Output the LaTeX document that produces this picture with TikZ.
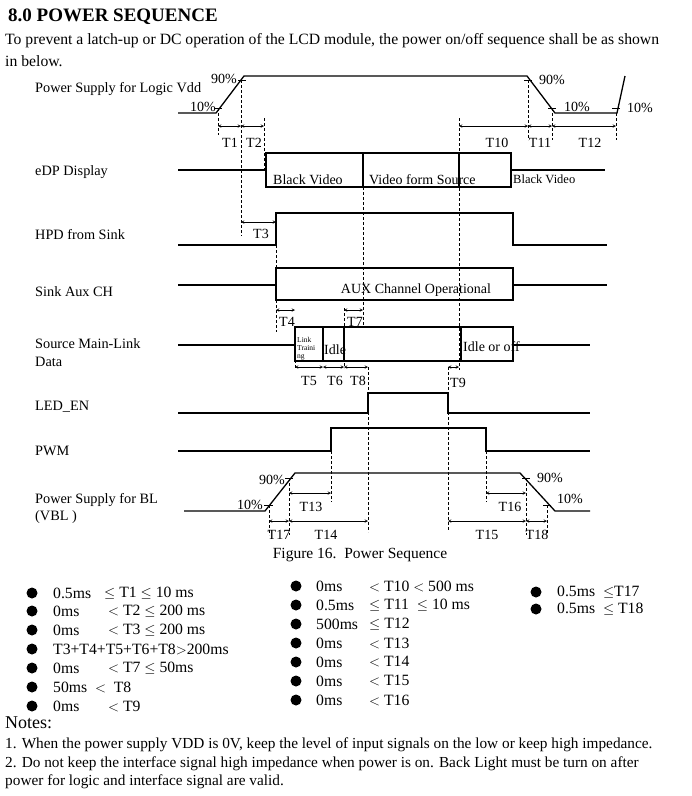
\documentclass[tikz,border=0pt]{standalone}
\usepackage{fontspec}
\setmainfont{Liberation Serif}
\begin{document}
\begin{tikzpicture}[x=1pt,y=-1pt,
  sig/.style={line width=1.3pt},
  guide/.style={densely dashed,line width=0.4pt},
  span/.style={<->,>=stealth,line width=0.5pt},
  lbl/.style={font=\fontsize{14}{14}\selectfont,inner sep=0pt},
  row/.style={font=\fontsize{14.3}{15}\selectfont,anchor=west,inner sep=0pt},
  txt/.style={font=\fontsize{15.7}{16}\selectfont,anchor=west,inner sep=0pt}]
\useasboundingbox (0,0) rectangle (692,796);
% heading
\node[anchor=west,inner sep=0pt,font=\fontsize{19}{19}\selectfont\bfseries] (head) at (8,17) {8.0 POWER SEQUENCE};
\node[txt] (intro1) at (5,41) {To prevent a latch-up or DC operation of the LCD module, the power on/off sequence shall be as shown};
\node[txt] (intro2) at (5,61) {in below.};

% row labels
\node[row] (lvdd) at (35,89) {Power Supply for Logic Vdd};
\node[row] (ledp) at (35,172) {eDP Display};
\node[row] (lhpd) at (35,235) {HPD from Sink};
\node[row] (laux) at (35,292) {Sink Aux CH};
\node[row] (lml1) at (35,344) {Source Main-Link};
\node[row] (lml2) at (35,362) {Data};
\node[row] (lled) at (35,407) {LED\_EN};
\node[row] (lpwm) at (35,451) {PWM};
\node[row] (lbl1) at (35,500) {Power Supply for BL};
\node[row] (lbl2) at (35,517) {(VBL )};

% Vdd
\draw[sig] (178,113) -- (216,113) -- (244,76) -- (527,76) -- (555,113) -- (617,113) -- (625,76);
\draw (214,108) -- (222,108) (238,80) -- (246,80) (524,80) -- (532,80) (548,108) -- (556,108) (612,108) -- (620,108);
\node[lbl] (v90a) at (224,79) {90\%};
\node[lbl] (v10a) at (203,107) {10\%};
\node[lbl] (v90b) at (552,80) {90\%};
\node[lbl] (v10b) at (577,107) {10\%};
\node[lbl] (v10c) at (640,108) {10\%};

% eDP display
\draw[sig] (178,170) -- (266,170) (511,170) -- (605,170);
\draw[sig] (266,153) rectangle (511,187);
\draw[sig] (363,153) -- (363,187) (459,153) -- (459,187);
\node[lbl,anchor=west] (bv1) at (273,180) {Black Video};
\node[lbl,anchor=west] (vfs) at (369,180) {Video form Source};
\node[lbl,anchor=west,font=\fontsize{12.5}{12}\selectfont] (bv2) at (513,179) {Black Video};

% HPD
\draw[sig] (178,245) -- (276,245) -- (276,213) -- (513,213) -- (513,245) -- (607,245);

% Sink Aux CH
\draw[sig] (178,285) -- (276,285) (513,285) -- (607,285);
\draw[sig] (276,268) rectangle (513,300);
\node[lbl] (auxop) at (416,290) {AUX Channel Operational};

% Main-link
\draw[sig] (178,345) -- (295,345) (513,345) -- (590,345);
\draw[sig] (295,327) rectangle (513,361);
\draw[sig] (323,327) -- (323,361) (344,327) -- (344,361) (461,327) -- (461,361);
\node[lbl,anchor=west,font=\fontsize{7.5}{8}\selectfont,align=left] (lt) at (297,349) {Link\\Traini\\ng};
\node[lbl,anchor=west] (idl) at (324,350) {Idle};
\node[lbl,anchor=west] (ido) at (463,347) {Idle or off};

% LED_EN, PWM
\draw[sig] (178,413) -- (368,413) -- (368,393) -- (448,393) -- (448,413) -- (590,413);
\draw[sig] (178,451) -- (331,451) -- (331,428) -- (486,428) -- (486,451) -- (590,451);

% VBL
\draw[sig] (184,511) -- (265,511) -- (295,473) -- (520,473) -- (555,511) -- (590,511);
\draw (264,505) -- (273,505) (285,478) -- (293,478) (522,478) -- (530,478) (543,505) -- (551,505);
\node[lbl] (b90a) at (272,480) {90\%};
\node[lbl] (b10a) at (250,505) {10\%};
\node[lbl] (b90b) at (550,478) {90\%};
\node[lbl] (b10b) at (570,499) {10\%};

% guides
\draw[guide] (218,108) -- (218,135) (241,80) -- (241,236) (264,118) -- (264,170)
  (459,118) -- (459,370) (528,80) -- (528,140) (552,108) -- (552,140) (616,113) -- (616,140)
  (363,187) -- (363,328) (276,245) -- (276,332) (295,345) -- (295,368) (344,308) -- (344,368)
  (368,367) -- (368,532) (448,367) -- (448,530) (269,505) -- (269,535) (289,478) -- (289,535)
  (331,451) -- (331,502) (486,451) -- (486,502) (526,478) -- (526,535) (547,505) -- (547,535);

% spans
\draw[span] (218,126) -- (241,126);
\draw[span] (241,126) -- (264,126);
\draw[span] (459,126) -- (528,126);
\draw[span] (528,126) -- (552,126);
\draw[span] (552,126) -- (616,126);
\draw[span] (241,222) -- (276,222);
\draw[span] (276,310) -- (295,310);
\draw[span] (344,310) -- (363,310);
\draw[span] (295,367) -- (323,367);
\draw[span] (323,367) -- (344,367);
\draw[span] (344,367) -- (368,367);
\draw[span] (448,367) -- (459,367);
\draw[span] (289,493) -- (331,493);
\draw[span] (486,493) -- (526,493);
\draw[span] (269,521) -- (289,521);
\draw[span] (289,521) -- (368,521);
\draw[span] (448,521) -- (526,521);
\draw[span] (526,521) -- (547,521);
\foreach \t/\x/\y in {T1/230/143,T2/254/143,T10/497/143,T11/540/143,T12/590/143,T3/261/234,
  T4/287/322,T7/355/322,T5/309/381,T6/335/381,T8/358/381,T9/458/383,
  T13/311/507,T16/510/507,T17/279/535,T14/326/535,T15/487/535,T18/537/535}
  \node[lbl] (l\t) at (\x,\y) {\t};
\node[lbl,font=\fontsize{15.5}{15}\selectfont] (cap) at (360,555) {Figure 16.\ \ Power Sequence};

% limits
\foreach \y in {593,611,630,649,668,687,706}
  \fill (32,\y) circle (5.5);
\foreach \y in {586,605,624,643,662,681,700}
  \fill (296,\y) circle (5.5);
\foreach \y in {592,609}
  \fill (536,\y) circle (5.5);
\foreach \a/\b/\y in {0.5ms/{$\leq$ T1 $\leq$ 10 ms}/593,0ms/{\ $<$ T2 $\leq$\ 200 ms}/611,
  0ms/{\ $<$ T3 $\leq$\ 200 ms}/630,0ms/{\ $<$ T7 $\leq$ 50ms}/668,0ms/{\ $<$\ T9}/706}
  {\node[txt] at (53,\y) {\a}; \node[txt] at (104,\y) {\b};}
\node[txt] (t3sum) at (53,649) {T3+T4+T5+T6+T8$>$200ms};
\node[txt] (t8) at (53,687) {50ms\ \ $<$\ \ T8};
\foreach \a/\b/\y in {0ms/{$<$ T10 $<$\ 500 ms}/586,0.5ms/{$\leq$ T11\ \ $\leq$ 10 ms}/605,
  500ms/{$\leq$ T12}/624,0ms/{$<$ T13}/643,0ms/{$<$ T14}/662,0ms/{$<$ T15}/681,0ms/{$<$ T16}/700}
  {\node[txt] at (316,\y) {\a}; \node[txt] at (369,\y) {\b};}
\node[txt] (t17) at (557,592) {0.5ms\ \ $\leq$T17};
\node[txt] (t18) at (557,609) {0.5ms\ \ $\leq$\ T18};

% notes
\node[txt,font=\fontsize{18}{18}\selectfont] (notes) at (5,723) {Notes:};
\node[txt,font=\fontsize{15.3}{16}\selectfont] (n1) at (5,745) {1. When the power supply VDD is 0V, keep the level of input signals on the low or keep high impedance.};
\node[txt,font=\fontsize{15.3}{16}\selectfont] (n2) at (5,764) {2. Do not keep the interface signal high impedance when power is on. Back Light must be turn on after};
\node[txt,font=\fontsize{15.3}{16}\selectfont] (n3) at (5,782) {power for logic and interface signal are valid.};
\end{tikzpicture}
\end{document}
